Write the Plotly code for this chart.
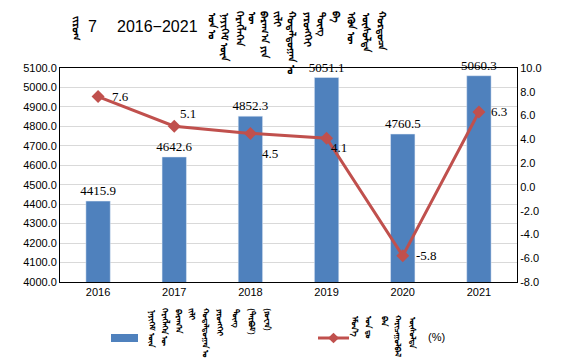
import plotly.graph_objects as go

years = ["2016", "2017", "2018", "2019", "2020", "2021"]
retail_sales = [4415.9, 4642.6, 4852.3, 5051.1, 4760.5, 5060.3]
growth_rate = [7.6, 5.1, 4.5, 4.1, -5.8, 6.3]
left_ticks = [4000 + 100 * i for i in range(12)]
right_ticks = [-8 + 2 * i for i in range(10)]

title_prefix = "ᠵᠢᠷᠤᠭ"
title_number = "7"
title_years = "2016−2021"
title_words = ["ᠣᠨ ᠤ", "ᠨᠡᠶᠢᠭᠡᠮ ᠦᠨ", "ᠬᠡᠷᠡᠭᠯᠡᠭᠡᠨ", "ᠦ", "ᠪᠠᠷᠠᠭ᠎ᠠ ᠶᠢᠨ", "ᠵᠢᠯᠢ",
               "ᠬᠤᠳᠠᠯᠳᠤᠭᠠᠨ ᠤ", "ᠶᠡᠷᠦᠩᠬᠡᠢ", "ᠳᠦᠩ", "ᠪᠠ", "ᠡᠭᠦᠨ ᠦ", "ᠥᠰᠦᠯᠲᠡ", "ᠬᠤᠷᠳᠤᠴᠠ"]
legend1_words = ["ᠨᠡᠶᠢᠭᠡᠮ ᠦᠨ", "ᠬᠡᠷᠡᠭᠯᠡᠭᠡᠨ ᠦ", "ᠪᠠᠷᠠᠭ᠎ᠠ", "ᠵᠢᠯᠢ", "ᠬᠤᠳᠠᠯᠳᠤᠭᠠᠨ ᠤ",
                 "ᠶᠡᠷᠦᠩᠬᠡᠢ", "ᠳᠦᠩ", "(ᠲᠡᠷᠪᠤᠮ)", "(ᠶᠤᠸᠠᠨ)"]
legend2_words = ["ᠡᠮᠦᠨ᠎ᠡ", "ᠣᠨ ᠳᠤ", "ᠪᠠᠨ", "ᠬᠠᠷᠢᠴᠠᠭᠤᠯᠪᠠᠯ", "ᠥᠰᠦᠯᠲᠡ"]
legend2_unit = "(%)"

BLUE = "#4F81BD"
RED = "#C0504D"
SANS = "Liberation Sans, DejaVu Sans, sans-serif"
SERIF = "Liberation Serif, DejaVu Serif, serif"

# page body has an 8px margin; the figure is placed at (8, 8) in the window
OFF = 8
W, H = 565 - OFF, 359 - OFF
l, r, t, b = 52, 48, 60, 77
pw, ph = W - l - r, H - t - b


def px(x, y):
    """window pixel -> paper coords"""
    return (x - OFF - l) / pw, 1 - (y - OFF - t) / ph


fig = go.Figure()
fig.add_trace(go.Bar(
    x=years, y=retail_sales, width=0.32, marker_color=BLUE,
    text=[f"{v:.1f}" for v in retail_sales], textposition="outside",
    constraintext="none",
    textfont=dict(family=SERIF, size=13, color="#000"), cliponaxis=False,
    yaxis="y", showlegend=False,
))
fig.add_trace(go.Scatter(
    x=years, y=growth_rate, mode="lines+markers", yaxis="y2",
    line=dict(color=RED, width=3), marker=dict(symbol="diamond", size=10, color=RED),
    cliponaxis=False, showlegend=False,
))

fig.update_layout(
    width=W, height=H, margin=dict(l=l, r=r, t=t, b=b),
    paper_bgcolor="white", plot_bgcolor="white",
    xaxis=dict(type="category", categoryorder="array", categoryarray=years,
               showline=True, linecolor="#000", linewidth=1,
               mirror=True, ticks="", tickfont=dict(family=SANS, size=11, color="#000")),
    yaxis=dict(range=[4000, 5100], tickvals=left_ticks, ticktext=[f"{v:.1f}" for v in left_ticks],
               showgrid=True, gridcolor="#D9D9D9", gridwidth=1, showline=True,
               linecolor="#000", linewidth=1, mirror=True, zeroline=False,
               tickfont=dict(family=SANS, size=11, color="#000")),
    yaxis2=dict(range=[-8, 10], tickvals=right_ticks, ticktext=[f"{v:.1f}" for v in right_ticks],
                overlaying="y", side="right", showgrid=False, zeroline=False, showline=True,
                linecolor="#000", linewidth=1,
                tickfont=dict(family=SANS, size=11, color="#000")),
)

ann = []
ann.append(dict(text=title_prefix, x=77, y=13, showarrow=False, textangle=90,
                xanchor="center", yanchor="top", font=dict(size=10, color="#000", weight=600)))
ann.append(dict(text=title_number, x=92, y=27, showarrow=False, xanchor="center", yanchor="middle",
                font=dict(family=SANS, size=16, color="#000")))
ann.append(dict(text=title_years, x=157, y=27, showarrow=False, xanchor="center", yanchor="middle",
                font=dict(family=SANS, size=16, color="#000")))
tx = [213, 225, 240, 253, 265, 278, 292, 308, 322, 337, 352, 367, 382]
for w, x in zip(title_words, tx):
    ann.append(dict(text=w, x=x, y=9, showarrow=False, textangle=90,
                    xanchor="center", yanchor="top", font=dict(size=10, color="#000", weight=600)))
lx = [152, 166, 179, 193, 207, 220, 236, 252, 268]
for w, x in zip(legend1_words, lx):
    ann.append(dict(text=w, x=x, y=306, showarrow=False, textangle=90,
                    xanchor="center", yanchor="top", font=dict(size=8, color="#000", weight=600)))
l2x = [355, 370, 385, 399, 413]
for w, x in zip(legend2_words, l2x):
    ann.append(dict(text=w, x=x, y=313, showarrow=False, textangle=90,
                    xanchor="center", yanchor="top", font=dict(size=8, color="#000", weight=600)))
ann.append(dict(text=legend2_unit, x=436, y=337, showarrow=False, xanchor="center", yanchor="middle",
                font=dict(family=SANS, size=11, color="#000")))

for a in ann:
    a["x"], a["y"] = px(a["x"], a["y"])
    a["xref"] = "paper"
    a["yref"] = "paper"

# growth-rate data labels, placed relative to each point (x = category index)
label_shift = [(22, 0), (14, 13), (20, -20), (12, -9), (24, 0), (20, 0)]
for i, (v, (dx, dy)) in enumerate(zip(growth_rate, label_shift)):
    ann.append(dict(text=f"{v:.1f}", x=i, y=v, xref="x", yref="y2", showarrow=False,
                    xshift=dx, yshift=dy, xanchor="center", yanchor="middle",
                    font=dict(family=SERIF, size=13, color="#000")))
fig.update_layout(annotations=ann)

shapes = []
x0, y0 = px(111, 334)
x1, y1 = px(138, 342)
shapes.append(dict(type="rect", xref="paper", yref="paper", x0=x0, y0=y0, x1=x1, y1=y1,
                   fillcolor=BLUE, line=dict(width=0)))
lx0, ly = px(318, 338)
lx1, _ = px(349, 338)
shapes.append(dict(type="line", xref="paper", yref="paper", x0=lx0, y0=ly, x1=lx1, y1=ly,
                   line=dict(color=RED, width=3)))
shapes.append(dict(type="path", xref="paper", yref="paper",
                   path=f"M {(lx0 + lx1) / 2 - 0.012},{ly} L {(lx0 + lx1) / 2},{ly + 0.024} "
                        f"L {(lx0 + lx1) / 2 + 0.012},{ly} L {(lx0 + lx1) / 2},{ly - 0.024} Z",
                   fillcolor=RED, line=dict(width=0)))
fig.update_layout(shapes=shapes)

fig.write_html("out.html")
